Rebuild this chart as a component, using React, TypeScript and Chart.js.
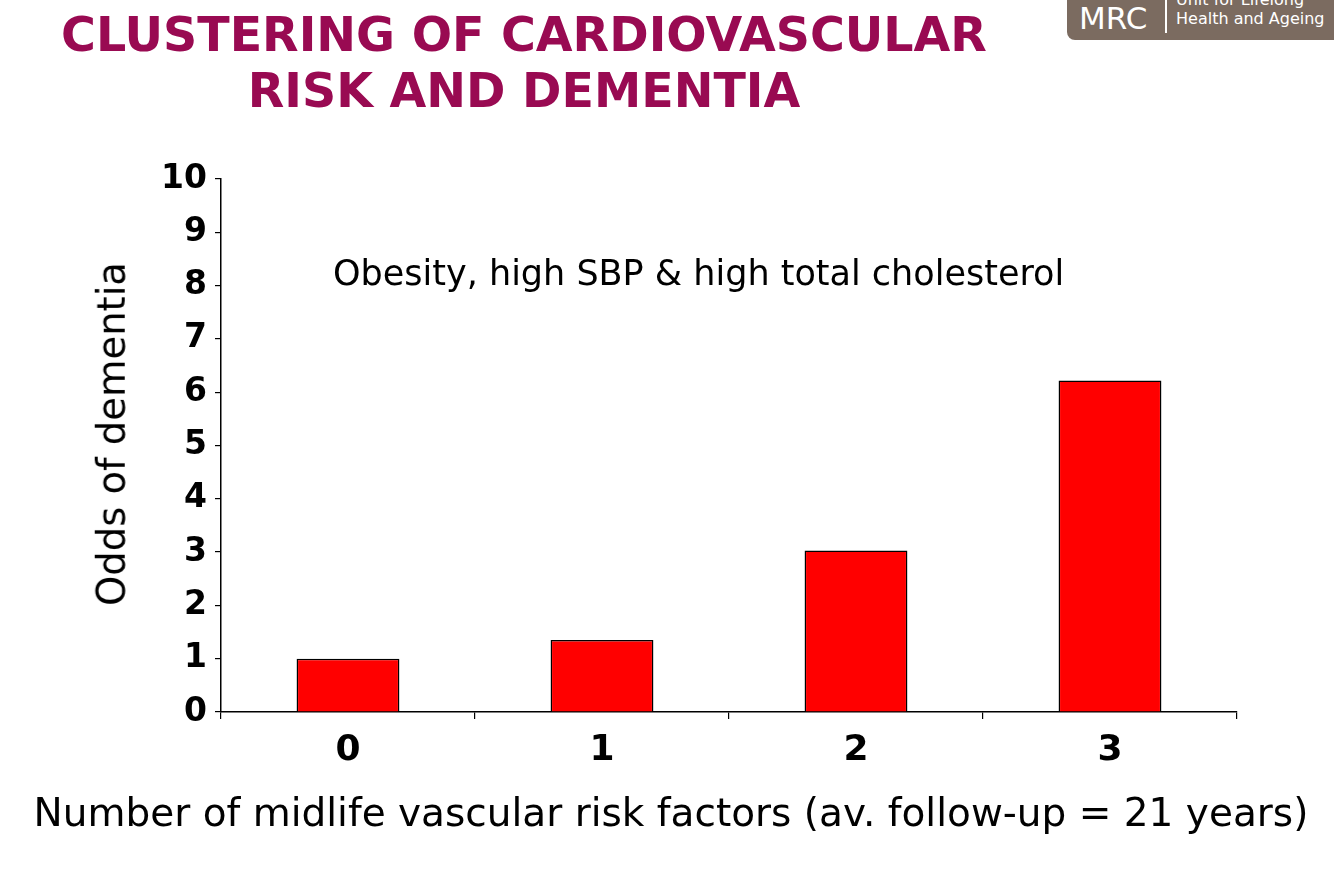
import React, { useEffect, useRef } from "react";
import { Chart, registerables } from "chart.js";

Chart.register(...registerables);

const categories = ["0", "1", "2", "3"];
const oddsValues = [1.0, 1.35, 3.03, 6.22];
const yTicks = [0, 1, 2, 3, 4, 5, 6, 7, 8, 9, 10];

const titleLines = ["CLUSTERING OF CARDIOVASCULAR", "RISK AND DEMENTIA"];
const annotationText = "Obesity, high SBP & high total cholesterol";
const xTitleText = "Number of midlife vascular risk factors (av. follow-up = 21 years)";
const yTitleText = "Odds of dementia";

const FONT = "'DejaVu Sans', Verdana, sans-serif";

export default function App() {
  const canvasRef = useRef<HTMLCanvasElement | null>(null);

  useEffect(() => {
    document.body.style.margin = "0";
    const canvas = canvasRef.current;
    if (!canvas) return;
    const padLeft = 90;
    const padBottom = 10;
    const chart = new Chart(canvas, {
      type: "bar",
      data: {
        labels: categories,
        datasets: [
          {
            data: oddsValues,
            backgroundColor: "#ff0000",
            borderColor: "#000000",
            borderWidth: 1.5,
            barPercentage: 0.405,
            categoryPercentage: 1,
          },
        ],
      },
      options: {
        animation: false,
        responsive: false,
        maintainAspectRatio: false,
        layout: { padding: { left: padLeft, right: 97, top: 179, bottom: padBottom } },
        plugins: { legend: { display: false }, tooltip: { enabled: false } },
        scales: {
          x: {
            afterFit: (s: any) => {
              s.height = 872 - 712 - padBottom;
            },
            grid: {
              display: true,
              drawOnChartArea: false,
              drawTicks: true,
              tickLength: 7,
              color: "#000",
              lineWidth: 1.2,
              offset: true,
            },
            border: { display: true, color: "#000", width: 1.5 },
            ticks: {
              color: "#000",
              padding: 10,
              font: { family: FONT, size: 36, weight: "bold" },
            },
          },
          y: {
            min: 0,
            max: 10,
            afterFit: (s: any) => {
              s.width = 221 - padLeft;
            },
            afterBuildTicks: (s: any) => {
              s.ticks = yTicks.map((v) => ({ value: v }));
            },
            grid: {
              display: true,
              drawOnChartArea: false,
              drawTicks: true,
              tickLength: 6,
              color: "#000",
              lineWidth: 1.2,
            },
            border: { display: true, color: "#000", width: 1.5 },
            ticks: {
              color: "#000",
              padding: 8,
              stepSize: 1,
              font: { family: FONT, size: 33, weight: "bold" },
            },
          },
        },
      },
    });
    return () => chart.destroy();
  }, []);

  return (
    <div
      style={{
        position: "fixed",
        left: 0,
        top: 0,
        width: 1334,
        height: 872,
        background: "#fff",
        overflow: "hidden",
        fontFamily: FONT,
      }}
    >
      <canvas ref={canvasRef} width={1334} height={872} style={{ position: "absolute", left: 0, top: 0 }} />
      <div
        style={{
          position: "absolute",
          left: 0,
          top: 7,
          width: 1048,
          textAlign: "center",
          color: "#990a52",
          fontWeight: "bold",
          fontSize: 47.5,
          lineHeight: "56px",
          fontFamily: FONT,
          whiteSpace: "nowrap",
        }}
      >
        {titleLines.map((l) => (
          <div key={l}>{l}</div>
        ))}
      </div>
      <div
        style={{
          position: "absolute",
          left: 112,
          top: 434,
          transform: "translate(-50%, -50%) rotate(-90deg)",
          fontSize: 38.5,
          lineHeight: 1,
          color: "#000",
          whiteSpace: "nowrap",
        }}
      >
        {yTitleText}
      </div>
      <div
        style={{
          position: "absolute",
          left: 333,
          top: 256,
          fontSize: 35,
          lineHeight: 1,
          color: "#000",
          whiteSpace: "nowrap",
        }}
      >
        {annotationText}
      </div>
      <div
        style={{
          position: "absolute",
          left: 0,
          top: 793,
          width: 1342,
          textAlign: "center",
          fontSize: 39,
          lineHeight: 1,
          color: "#000",
          whiteSpace: "nowrap",
        }}
      >
        {xTitleText}
      </div>
      <div
        style={{
          position: "absolute",
          left: 1067,
          top: -10,
          width: 290,
          height: 50,
          background: "#7b6b60",
          borderBottomLeftRadius: 8,
          color: "#fff",
        }}
      >
        <div
          style={{
            position: "absolute",
            left: 12,
            top: 12,
            fontFamily: FONT,
            fontSize: 31,
            lineHeight: "32px",
          }}
        >
          MRC
        </div>
        <div style={{ position: "absolute", left: 98, top: 6, width: 2, height: 37, background: "#fff" }} />
        <div
          style={{
            position: "absolute",
            left: 109,
            top: 0,
            fontFamily: FONT,
            fontSize: 16,
            lineHeight: "19px",
            whiteSpace: "nowrap",
          }}
        >
          <div>Unit for Lifelong</div>
          <div>Health and Ageing</div>
        </div>
      </div>
    </div>
  );
}
